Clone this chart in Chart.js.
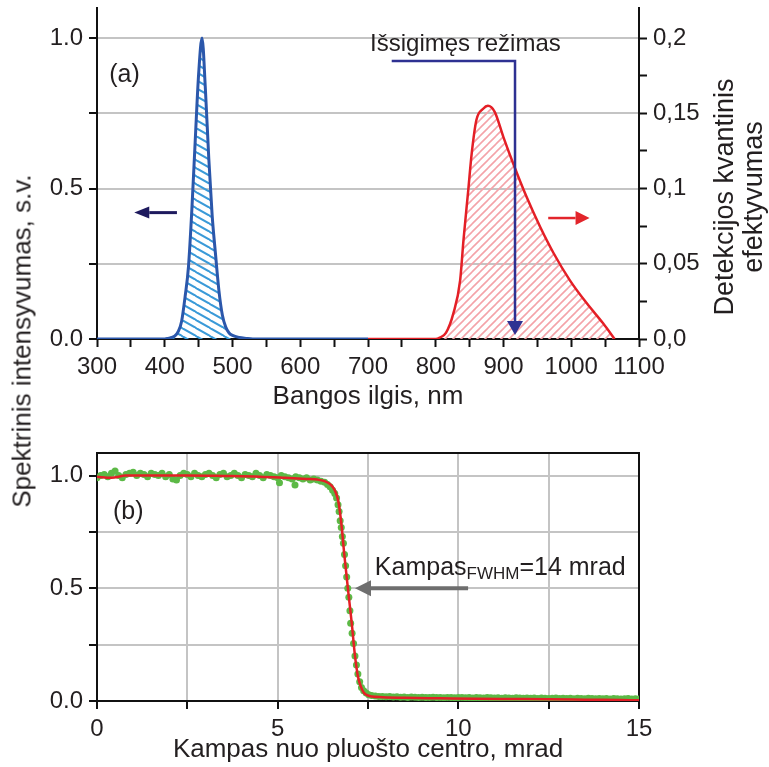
<!DOCTYPE html>
<html><head><meta charset="utf-8">
<script src="https://cdn.jsdelivr.net/npm/chart.js@4.4.1/dist/chart.umd.min.js"></script>
<style>
html,body{margin:0;padding:0;background:#fff;}
body{width:769px;height:767px;position:relative;overflow:hidden;font-family:"Liberation Sans",Arial,sans-serif;}
#wrapA{position:absolute;left:0;top:0;width:769px;height:420px;}
#wrapB{position:absolute;left:0;top:420px;width:769px;height:347px;}
#ytitle{position:absolute;left:22px;top:341px;transform:translate(-50%,-50%) rotate(-90deg);white-space:nowrap;font-size:26px;color:#231f20;}
</style></head><body>
<div id="wrapA"><canvas id="cA" width="769" height="420"></canvas></div>
<div id="wrapB"><canvas id="cB" width="769" height="347"></canvas></div>
<div id="ytitle">Spektrinis intensyvumas, s.v.</div>
<script>
// ---------- DATA ----------
const emissionNm = [300,400,405,410,415,420,425,430,435,440,445,450,455,460,465,470,475,480,485,490,495,500,510,520,530,700];
const emissionI  = [0,0,0.002,0.005,0.01,0.025,0.06,0.14,0.24,0.43,0.66,0.88,1.0,0.83,0.6,0.41,0.28,0.16,0.08,0.04,0.02,0.012,0.005,0.002,0,0];
const qeNm  = [700,800,806,815,826,836,841,848,853,860,870,877,887,900,914,934,954,974,998,1023,1047,1064];
const qeVal = [0,0,0.001,0.004,0.017,0.039,0.066,0.099,0.123,0.1455,0.153,0.155,0.151,0.134,0.117,0.0945,0.0746,0.057,0.039,0.0237,0.0104,0];
const nmTicks = [300,400,500,600,700,800,900,1000,1100];
const leftTickLabels = ['0.0','0.5','1.0'];

const fitX = [0,0.4,0.8,1.5,2.5,3.5,4.5,5.2,5.8,6.1,6.3,6.45,6.58,6.68,6.76,6.85,6.95,7.05,7.14,7.22,7.3,7.38,7.46,7.6,7.9,8.5,9.5,10.5,11.5,12.5,13.5,14.5,15];
const fitY = [0.995,0.99,1.0,1.0,1.0,0.998,0.995,0.99,0.985,0.982,0.975,0.962,0.935,0.885,0.79,0.64,0.49,0.345,0.2,0.11,0.065,0.038,0.027,0.02,0.017,0.014,0.012,0.01,0.009,0.008,0.006,0.004,0.003];
const beamDots = [
[0,0.99],[0.1,1.0],[0.2,1.005],[0.3,0.995],[0.4,1.01],[0.5,1.02],[0.6,1.0],[0.7,0.99],[0.8,1.005],[0.9,1.01],
[1.0,1.015],[1.1,1.0],[1.2,1.01],[1.3,1.005],[1.4,0.995],[1.5,1.01],[1.6,1.005],[1.7,1.0],[1.8,1.01],[1.9,0.995],
[2.0,1.005],[2.1,0.985],[2.2,0.98],[2.3,1.0],[2.4,1.01],[2.5,1.005],[2.6,0.995],[2.7,1.01],[2.8,1.0],[2.9,0.995],
[3.0,1.005],[3.1,1.01],[3.2,1.0],[3.3,0.99],[3.4,1.005],[3.5,1.01],[3.6,0.995],[3.7,1.0],[3.8,1.01],[3.9,1.0],
[4.0,0.99],[4.1,1.005],[4.2,1.0],[4.3,0.995],[4.4,1.01],[4.5,1.0],[4.6,0.99],[4.7,1.005],[4.8,1.0],[4.9,0.995],
[5.0,0.99],[5.05,0.968],[5.1,1.0],[5.2,0.995],[5.3,0.99],[5.4,0.985],[5.48,0.958],[5.5,0.995],[5.6,0.99],[5.7,0.985],
[5.8,0.99],[5.9,0.98],[6.0,0.985],[6.1,0.98],[6.2,0.975],[6.3,0.97],[6.38,0.96],[6.45,0.95],[6.52,0.935],[6.58,0.92],
[6.63,0.9],[6.67,0.87],[6.7,0.84],[6.73,0.8],[6.76,0.77],[6.79,0.73],[6.82,0.7],[6.85,0.65],[6.88,0.6],[6.91,0.55],
[6.94,0.5],[6.97,0.46],[7.0,0.4],[7.02,0.345],[7.06,0.3],[7.1,0.255],[7.14,0.2],[7.18,0.16],[7.22,0.12],[7.27,0.085],
[7.32,0.06],[7.38,0.045],[7.45,0.035],[7.52,0.028],[7.6,0.024],[7.7,0.022],[7.8,0.02],[7.9,0.02],[8.0,0.019],[8.1,0.02],
[8.2,0.018],[8.3,0.019],[8.4,0.017],[8.5,0.018],[8.6,0.016],[8.7,0.018],[8.8,0.017],[8.9,0.016],[9.0,0.017],[9.1,0.015],
[9.2,0.016],[9.3,0.017],[9.4,0.015],[9.5,0.016],[9.6,0.014],[9.7,0.016],[9.8,0.015],[9.9,0.014],[10.0,0.015],[10.1,0.016],
[10.2,0.014],[10.3,0.015],[10.4,0.013],[10.5,0.015],[10.6,0.014],[10.7,0.013],[10.8,0.015],[10.9,0.014],[11.0,0.013],[11.1,0.014],
[11.2,0.012],[11.3,0.014],[11.4,0.013],[11.5,0.012],[11.6,0.014],[11.7,0.013],[11.8,0.012],[11.9,0.013],[12.0,0.012],[12.1,0.013],
[12.2,0.011],[12.3,0.013],[12.4,0.012],[12.5,0.011],[12.6,0.012],[12.7,0.013],[12.8,0.011],[12.9,0.012],[13.0,0.011],[13.1,0.012],
[13.2,0.01],[13.3,0.012],[13.4,0.011],[13.5,0.01],[13.6,0.012],[13.7,0.011],[13.8,0.01],[13.9,0.011],[14.0,0.01],[14.1,0.011],
[14.2,0.009],[14.3,0.011],[14.4,0.01],[14.5,0.009],[14.6,0.01],[14.7,0.011],[14.8,0.009],[14.9,0.01],[15.0,0.009]
];
const angleTickLabels = [0,5,10,15];

// ---------- STYLE ----------
const FONT = '"Liberation Sans", Arial, sans-serif';
const TXT = '#231f20';
const GRID = '#c4c4c4';

function hatch(color, w, h, dir, lw) {
  const c = document.createElement('canvas'); c.width = w; c.height = h;
  const g = c.getContext('2d');
  g.strokeStyle = color; g.lineWidth = lw; g.lineCap = 'square';
  g.beginPath();
  for (const off of [-w, 0, w]) {
    if (dir === '/') { g.moveTo(off, h); g.lineTo(off + w, 0); }
    else { g.moveTo(off, 0); g.lineTo(off + w, h); }
  }
  g.stroke();
  return g.createPattern(c, 'repeat');
}
function arrow(ctx, x0, y0, x1, y1, color, lw, hl, hw) {
  const a = Math.atan2(y1 - y0, x1 - x0);
  const bx = x1 - hl * Math.cos(a), by = y1 - hl * Math.sin(a);
  ctx.strokeStyle = color; ctx.fillStyle = color; ctx.lineWidth = lw; ctx.lineCap = 'butt';
  ctx.beginPath(); ctx.moveTo(x0, y0); ctx.lineTo(bx, by); ctx.stroke();
  ctx.beginPath(); ctx.moveTo(x1, y1);
  ctx.lineTo(bx + hw * Math.sin(a), by - hw * Math.cos(a));
  ctx.lineTo(bx - hw * Math.sin(a), by + hw * Math.cos(a));
  ctx.closePath(); ctx.fill();
}
function fixBox(w, h) {
  return (s) => {
    if (w !== null) s.width = w;
    if (h !== null) s.height = h;
    s.paddingTop = 0; s.paddingBottom = 0; s.paddingLeft = 0; s.paddingRight = 0;
  };
}
const tickFont = { family: FONT, size: 24 };
const leftLabel = v => { const k = Math.round(v * 100); return k === 0 ? leftTickLabels[0] : k === 50 ? leftTickLabels[1] : k === 100 ? leftTickLabels[2] : ''; };

Chart.defaults.font.family = FONT;
Chart.defaults.color = TXT;

// ---------- CHART (a) ----------
const annoA = {
  id: 'annoA',
  afterDatasetsDraw(chart) {
    const { ctx, scales: { x, yL } } = chart;
    ctx.save();
    ctx.fillStyle = TXT; ctx.font = '25px ' + FONT; ctx.textBaseline = 'middle'; ctx.textAlign = 'left';
    ctx.fillText('(a)', x.getPixelForValue(318), yL.getPixelForValue(0.877));
    arrow(ctx, x.getPixelForValue(418), yL.getPixelForValue(0.42), x.getPixelForValue(355), yL.getPixelForValue(0.42), '#1e1a5e', 3, 15, 6);
    arrow(ctx, x.getPixelForValue(966), yL.getPixelForValue(0.402), x.getPixelForValue(1027), yL.getPixelForValue(0.402), '#e2252b', 2.5, 14, 7);
    ctx.fillStyle = TXT; ctx.font = '24px ' + FONT;
    ctx.fillText('Išsigimęs režimas', x.getPixelForValue(703), yL.getPixelForValue(0.98));
    const hx0 = x.getPixelForValue(735), hx1 = x.getPixelForValue(917), hy = yL.getPixelForValue(0.9236);
    const tip = yL.getPixelForValue(0.013);
    ctx.strokeStyle = '#2e3192'; ctx.lineWidth = 2.5;
    ctx.beginPath(); ctx.moveTo(hx0, hy); ctx.lineTo(hx1, hy); ctx.lineTo(hx1, tip - 12); ctx.stroke();
    ctx.fillStyle = '#2e3192';
    ctx.beginPath(); ctx.moveTo(hx1, tip); ctx.lineTo(hx1 - 8, tip - 14); ctx.lineTo(hx1 + 8, tip - 14); ctx.closePath(); ctx.fill();
    ctx.restore();
  },
  afterDraw(chart) {
    const { ctx, chartArea } = chart;
    ctx.save();
    ctx.fillStyle = TXT; ctx.font = '27px ' + FONT; ctx.textAlign = 'center'; ctx.textBaseline = 'middle';
    ctx.translate(chartArea.right + 87, 197); ctx.rotate(-Math.PI / 2);
    ctx.fillText('Detekcijos kvantinis', 0, 0);
    ctx.fillText('efektyvumas', 0, 29);
    ctx.restore();
  }
};

new Chart(document.getElementById('cA'), {
  type: 'scatter',
  data: {
    datasets: [
      { data: emissionNm.map((v, i) => ({ x: v, y: emissionI[i] })), yAxisID: 'yL', showLine: true,
        borderColor: '#2b57ab', borderWidth: 3, pointRadius: 0, fill: 'origin',
        backgroundColor: hatch('#3a9ad8', 14, 8, '\\', 2), cubicInterpolationMode: 'monotone' },
      { data: qeNm.map((v, i) => ({ x: v, y: qeVal[i] })), yAxisID: 'yR', showLine: true,
        borderColor: '#e41f26', borderWidth: 2.5, pointRadius: 0, fill: 'origin',
        backgroundColor: hatch('#f4a3a9', 8, 8, '/', 1.6), cubicInterpolationMode: 'monotone' }
    ]
  },
  options: {
    responsive: false, animation: false, events: [],
    layout: { padding: { top: 8, left: 0, right: 0, bottom: 0 } },
    plugins: { legend: { display: false }, tooltip: { enabled: false } },
    scales: {
      x: {
        type: 'linear', min: 300, max: 1100, afterFit: fixBox(null, 81),
        ticks: { stepSize: 50, font: tickFont, color: TXT, padding: 6, maxRotation: 0, autoSkip: false,
          callback: v => nmTicks.includes(v) ? String(v) : '' },
        grid: { drawOnChartArea: false, drawTicks: true, tickLength: 8, tickColor: '#111', tickWidth: 2 },
        border: { display: true, color: '#111', width: 2 },
        title: { display: true, text: 'Bangos ilgis, nm', font: { family: FONT, size: 26 }, color: TXT, padding: { top: 0, bottom: 8 } }
      },
      yL: {
        type: 'linear', position: 'left', min: 0, max: 1.1, afterFit: fixBox(97, null),
        ticks: { stepSize: 0.25, includeBounds: false, font: tickFont, color: TXT, padding: 6, autoSkip: false, callback: leftLabel },
        grid: { color: GRID, lineWidth: 2, drawTicks: true, tickLength: 8, tickColor: '#111', tickWidth: 2 },
        border: { display: true, color: '#111', width: 2 }
      },
      yR: {
        type: 'linear', position: 'right', min: 0, max: 0.22, afterFit: fixBox(130, null),
        ticks: { stepSize: 0.025, includeBounds: false, font: tickFont, color: TXT, padding: 6, autoSkip: false,
          callback: v => { const k = Math.round(v * 1000); if (k % 50) return ''; return k === 0 ? '0,0' : String(k / 1000).replace('.', ','); } },
        grid: { drawOnChartArea: false, drawTicks: true, tickLength: 8, tickColor: '#111', tickWidth: 2 },
        border: { display: true, color: '#111', width: 2 }
      }
    }
  },
  plugins: [annoA]
});

// ---------- CHART (b) ----------
const annoB = {
  id: 'annoB',
  beforeDatasetsDraw(chart) {
    const { ctx, chartArea: a } = chart;
    ctx.save();
    ctx.strokeStyle = '#111'; ctx.lineWidth = 2;
    ctx.beginPath(); ctx.moveTo(a.left, a.top); ctx.lineTo(a.right, a.top); ctx.lineTo(a.right, a.bottom); ctx.stroke();
    ctx.restore();
  },
  afterDatasetsDraw(chart) {
    const { ctx, scales: { x, y } } = chart;
    ctx.save();
    ctx.fillStyle = TXT; ctx.font = '25px ' + FONT; ctx.textBaseline = 'middle'; ctx.textAlign = 'left';
    ctx.fillText('(b)', x.getPixelForValue(0.44), y.getPixelForValue(0.836));
    arrow(ctx, x.getPixelForValue(10.27), y.getPixelForValue(0.5), x.getPixelForValue(7.14), y.getPixelForValue(0.5), '#6e6e6e', 4, 16, 8);
    const tx = x.getPixelForValue(7.69), ty = y.getPixelForValue(0.56);
    ctx.textBaseline = 'alphabetic'; ctx.fillStyle = TXT;
    ctx.font = '25px ' + FONT; ctx.fillText('Kampas', tx, ty);
    let w = ctx.measureText('Kampas').width;
    ctx.font = '17px ' + FONT; ctx.fillText('FWHM', tx + w, ty + 4);
    w += ctx.measureText('FWHM').width;
    ctx.font = '25px ' + FONT; ctx.fillText('=14 mrad', tx + w, ty);
    ctx.restore();
  }
};

new Chart(document.getElementById('cB'), {
  type: 'scatter',
  data: {
    datasets: [
      { data: fitX.map((v, i) => ({ x: v, y: fitY[i] })), showLine: true, order: 0,
        borderColor: '#e41f26', borderWidth: 2.5, pointRadius: 0, fill: false, cubicInterpolationMode: 'monotone' },
      { data: beamDots.map(p => ({ x: p[0], y: p[1] })), showLine: false, order: 1,
        pointRadius: 3.5, pointBackgroundColor: '#5cb946', pointBorderWidth: 0, pointBorderColor: '#5cb946' }
    ]
  },
  options: {
    responsive: false, animation: false, events: [],
    layout: { padding: { top: 33, left: 0, right: 130, bottom: 0 } },
    plugins: { legend: { display: false }, tooltip: { enabled: false } },
    scales: {
      x: {
        type: 'linear', min: 0, max: 15, afterFit: fixBox(null, 66),
        ticks: { stepSize: 2.5, font: tickFont, color: TXT, padding: 6, maxRotation: 0, autoSkip: false,
          callback: v => angleTickLabels.includes(v) ? String(v) : '' },
        grid: { color: GRID, lineWidth: 2, drawTicks: true, tickLength: 8, tickColor: '#111', tickWidth: 2 },
        border: { display: true, color: '#111', width: 2 },
        title: { display: true, text: 'Kampas nuo pluošto centro, mrad', font: { family: FONT, size: 26 }, color: TXT, padding: { top: 0, bottom: 2 } }
      },
      y: {
        type: 'linear', min: 0, max: 1.1, afterFit: fixBox(97, null),
        ticks: { stepSize: 0.25, includeBounds: false, font: tickFont, color: TXT, padding: 6, autoSkip: false, callback: leftLabel },
        grid: { color: GRID, lineWidth: 2, drawTicks: true, tickLength: 8, tickColor: '#111', tickWidth: 2 },
        border: { display: true, color: '#111', width: 2 }
      }
    }
  },
  plugins: [annoB]
});
</script></body></html>
